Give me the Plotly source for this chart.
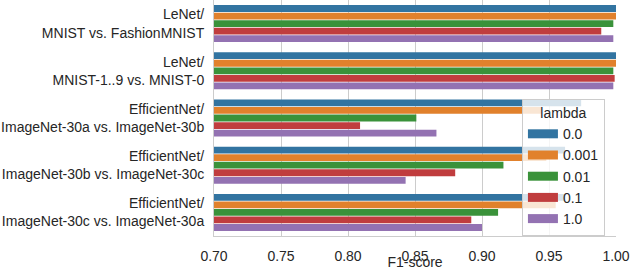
import plotly.graph_objects as go

categories = [
    "LeNet/<br>MNIST vs. FashionMNIST",
    "LeNet/<br>MNIST-1..9 vs. MNIST-0",
    "EfficientNet/<br>ImageNet-30a vs. ImageNet-30b",
    "EfficientNet/<br>ImageNet-30b vs. ImageNet-30c",
    "EfficientNet/<br>ImageNet-30c vs. ImageNet-30a",
]
lambda_labels = ["0.0", "0.001", "0.01", "0.1", "1.0"]
f1_lambda_0 = [1.000, 1.000, 0.974, 0.962, 0.962]
f1_lambda_0001 = [1.000, 1.000, 0.944, 0.948, 0.955]
f1_lambda_001 = [0.998, 0.998, 0.851, 0.916, 0.912]
f1_lambda_01 = [0.989, 0.999, 0.809, 0.880, 0.892]
f1_lambda_1 = [0.998, 0.998, 0.866, 0.843, 0.900]
x_ticks = [0.70, 0.75, 0.80, 0.85, 0.90, 0.95, 1.00]

series = [f1_lambda_0, f1_lambda_0001, f1_lambda_001, f1_lambda_01, f1_lambda_1]
colors = ["#3274a1", "#e1812c", "#3a923a", "#c03d3e", "#9372b2"]
FONT = "Liberation Sans, Arial, sans-serif"
TXT = "#262626"

fig = go.Figure()
for lab, vals, col in zip(lambda_labels, series, colors):
    fig.add_trace(go.Bar(
        y=categories, x=vals, orientation="h", name=lab,
        marker=dict(color=col, line=dict(width=0)),
        showlegend=False,
    ))
for lab, col in zip(lambda_labels, colors):
    fig.add_trace(go.Scatter(
        x=[None], y=[None], mode="lines", name=lab,
        line=dict(color=col, width=9), showlegend=True,
    ))

fig.update_layout(
    width=632, height=270,
    margin=dict(l=214, r=16, t=0, b=34, autoexpand=False),
    paper_bgcolor="white", plot_bgcolor="white",
    font=dict(family=FONT, size=14, color=TXT),
    barmode="group", bargap=0.2, bargroupgap=0.1,
    legend=dict(
        title=dict(text="lambda", side="top center", font=dict(size=14, color=TXT)),
        x=0.766, y=0.5805, xanchor="left", yanchor="top",
        bgcolor="rgba(255,255,255,0.8)", bordercolor="#cccccc", borderwidth=1,
        font=dict(size=14, color=TXT), itemwidth=30,
    ),
)
fig.update_xaxes(
    range=[0.70, 1.00], tickvals=x_ticks, tickformat=".2f",
    showgrid=True, gridcolor="#cccccc", gridwidth=1,
    showline=True, linecolor="#cccccc", linewidth=1,
    ticks="", zeroline=False, automargin=False, ticklabelstandoff=7,
    title=dict(text="F1-score", font=dict(size=14, color=TXT), standoff=0),
    tickfont=dict(size=14, color=TXT),
)
fig.update_yaxes(
    autorange="reversed", showgrid=False, automargin=False,
    showline=True, linecolor="#cccccc", linewidth=1,
    ticks="", ticklabelstandoff=6,
    tickfont=dict(size=14, color=TXT),
)
fig.write_html(
    "out.html",
    config={"displayModeBar": False},
    post_script="document.body.style.margin='0';document.body.style.overflow='hidden';",
)
